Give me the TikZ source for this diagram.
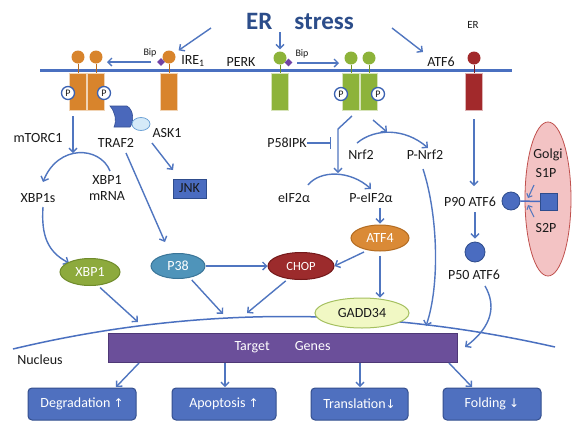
\documentclass[tikz,border=0pt]{standalone}
\usepackage{fontspec}
\setmainfont{Carlito}
\newfontfamily\symfont{DejaVu Sans}
\usetikzlibrary{arrows.meta,shapes.geometric}
\definecolor{arrowblue}{HTML}{5076C0}
\definecolor{membraneblue}{HTML}{4A70C0}
\definecolor{titleblue}{HTML}{2C4D8A}
\definecolor{ireorange}{HTML}{D8842C}
\definecolor{ireorangeD}{HTML}{B86A1C}
\definecolor{perkgreen}{HTML}{8DB33A}
\definecolor{perkgreenD}{HTML}{6F9126}
\definecolor{atfred}{HTML}{A2292B}
\definecolor{atfredD}{HTML}{7E1A1C}
\definecolor{bipviolet}{HTML}{7042A6}
\definecolor{trafblue}{HTML}{4A68BB}
\definecolor{trafblueD}{HTML}{344F94}
\definecolor{askfill}{HTML}{D5EAF8}
\definecolor{askdraw}{HTML}{6FA3D6}
\definecolor{jnkfill}{HTML}{4A6CC0}
\definecolor{jnkdraw}{HTML}{2E4C8C}
\definecolor{xbpfill}{HTML}{8DAA3D}
\definecolor{xbpdraw}{HTML}{6F8B2B}
\definecolor{pfill}{HTML}{4F94BA}
\definecolor{pdraw}{HTML}{3A7598}
\definecolor{chopfill}{HTML}{9C2B2C}
\definecolor{chopdraw}{HTML}{74191A}
\definecolor{atf4fill}{HTML}{DA8A36}
\definecolor{atf4draw}{HTML}{B36C22}
\definecolor{gaddfill}{HTML}{F1F8C4}
\definecolor{gadddraw}{HTML}{A5C060}
\definecolor{targetfill}{HTML}{6B4F9A}
\definecolor{targetdraw}{HTML}{4E3876}
\definecolor{outfill}{HTML}{4F70BF}
\definecolor{outdraw}{HTML}{344F8E}
\definecolor{golgifill}{HTML}{F3C3C4}
\definecolor{golgidraw}{HTML}{C0504D}
\definecolor{ringblue}{HTML}{3B62B2}
\definecolor{textdark}{HTML}{1A1A1A}
\tikzset{
 arr/.style={draw=arrowblue, line width=1.4pt, -{Straight Barb[length=4pt,width=8pt]}},
 arrsmall/.style={draw=arrowblue, line width=1.1pt, -{Straight Barb[length=3pt,width=6pt]}},
 inh/.style={draw=arrowblue, line width=1.4pt, -{Bar[width=12pt,line width=1.4pt]}},
 membrane/.style={draw=membraneblue, line width=3pt},
 stemline/.style={draw=#1, line width=0.8pt},
 head/.style={circle, minimum size=13pt, inner sep=0pt, fill=#1, draw=none},
 rbox/.style={rectangle, minimum width=17.5pt, minimum height=37pt, inner sep=0pt, fill=#1, draw=white!65!#1, line width=0.6pt},
 bipd/.style={diamond, minimum size=8pt, inner sep=0pt, fill=bipviolet, draw=none},
 pc/.style={circle, minimum size=13pt, inner sep=0pt, fill=white, draw=ringblue, line width=1.3pt, font=\fontsize{10}{10}\selectfont, text=textdark},
 lbl/.style={inner sep=0pt, font=\fontsize{14}{16}\selectfont, text=textdark, align=center},
 smalllbl/.style={inner sep=0pt, font=\fontsize{10}{10}\selectfont, text=textdark},
 oval/.style={ellipse, inner sep=0pt, line width=1pt, font=\fontsize{14}{16}\selectfont, text=white},
 outbox/.style={rectangle, rounded corners=4pt, minimum height=32pt, fill=outfill, draw=outdraw, line width=1pt, font=\fontsize{14}{16}\selectfont, text=white, inner sep=0pt},
 atfc/.style={circle, inner sep=0pt, fill=jnkfill, draw=jnkdraw, line width=0.8pt},
 nucline/.style={draw=membraneblue, line width=1.5pt},
}
\begin{document}
\begin{tikzpicture}[x=1pt,y=-1pt]
\fill[white] (0,0) rectangle (574,429);
\useasboundingbox (0,0) rectangle (574,429);

% Golgi
\node[ellipse, minimum width=46pt, minimum height=154pt, inner sep=0pt, fill=golgifill, draw=golgidraw, line width=0.8pt] (golgi) at (548,199) {};

% title
\node[inner sep=0pt, font=\fontsize{25}{28}\selectfont\bfseries, text=titleblue] (title) at (300,21) {ER\hspace{22pt}stress};
\node[inner sep=0pt, font=\fontsize{11}{12}\selectfont, text=textdark] (ersmall) at (473,25) {ER};

% membrane
\coordinate (memL) at (40,70);
\coordinate (memR) at (512,70);
\draw[membrane] (memL) -- (memR);

% IRE1 dimer
\node[rbox=ireorange] (ireBA) at (78,92) {};
\node[rbox=ireorange] (ireBB) at (96,92) {};
\node[head=ireorange] (ireHA) at (78,57) {};
\node[head=ireorange] (ireHB) at (96,57) {};
\draw[stemline=ireorangeD] (ireHA) -- (ireBA);
\draw[stemline=ireorangeD] (ireHB) -- (ireBB);
\node[pc] (pA) at (68,93) {P};
\node[pc] (pB) at (104,93) {P};

% IRE1 monomer
\node[rbox=ireorange] (ireBM) at (169,92) {};
\node[head=ireorange] (ireHM) at (169,57) {};
\draw[stemline=ireorangeD] (ireHM) -- (ireBM);
\node[bipd] (bip1) at (161,62) {};
\node[smalllbl] (bipt1) at (150,53) {Bip};
\node[lbl] (irel) at (193,61) {IRE\textsubscript{1}};

% PERK monomer
\node[lbl] (perkl) at (241,62) {PERK};
\node[rbox=perkgreen] (perkBM) at (280,92) {};
\node[head=perkgreen] (perkHM) at (280,58) {};
\draw[stemline=perkgreenD] (perkHM) -- (perkBM);
\node[bipd] (bip2) at (288.5,62.5) {};
\node[smalllbl] (bipt2) at (302,54) {Bip};

% PERK dimer
\node[rbox=perkgreen] (perkBA) at (351,92) {};
\node[rbox=perkgreen] (perkBB) at (369,92) {};
\node[head=perkgreen] (perkHA) at (351,58) {};
\node[head=perkgreen] (perkHB) at (369,58) {};
\draw[stemline=perkgreenD] (perkHA) -- (perkBA);
\draw[stemline=perkgreenD] (perkHB) -- (perkBB);
\node[pc] (pC) at (341,94) {P};
\node[pc] (pD) at (378,94) {P};

% ATF6
\node[lbl] (atf6l) at (441,62) {ATF6};
\node[rbox=atfred, minimum width=17pt] (atfB) at (474,92) {};
\node[head=atfred] (atfH) at (474,58) {};
\draw[stemline=atfredD] (atfH) -- (atfB);

% stress arrows
\coordinate (t1) at (211,28);
\draw[arr, shorten >=5pt] (t1) -- (ireHM);
\coordinate (t2) at (280,32);
\draw[arr, shorten >=2pt] (t2) -- (perkHM);
\coordinate (t3) at (392,28);
\coordinate (t3e) at (423,52);
\draw[arr] (t3) -- (t3e);

% membrane arrows
\coordinate (i1s) at (151,62);
\coordinate (i1e) at (107,62);
\draw[arr] (i1s) -- (i1e);
\coordinate (p1s) at (297,63);
\coordinate (p1e) at (339,63);
\draw[arr] (p1s) -- (p1e);

% TRAF2 / ASK1
\draw[fill=trafblue, draw=trafblueD, line width=0.6pt] (110,106) -- (127,106) .. controls (134,110) and (134,122) .. (130,127) -- (114,127) .. controls (117,120) and (115,112) .. (110,106) -- cycle;
\node[ellipse, minimum width=18pt, minimum height=13pt, inner sep=0pt, fill=askfill, draw=askdraw, line width=0.8pt] (ask1e) at (141,124) {};

% IRE1 branch labels
\node[lbl] (mtorc) at (38,138) {mTORC1};
\node[lbl] (traf2) at (116,143) {TRAF2};
\node[lbl] (ask1) at (167,133) {ASK1};
\node[lbl] (xbp1s) at (38,198) {XBP1s};
\node[lbl] (xbpm) at (107,188) {XBP1\\mRNA};
\node[rectangle, minimum width=33pt, minimum height=19pt, inner sep=0pt, fill=jnkfill, draw=jnkdraw, line width=0.8pt, font=\fontsize{14}{16}\selectfont, text=textdark] (jnk) at (189.5,188.5) {JNK};

\coordinate (a1s) at (73,116);
\coordinate (a1e) at (73,153);
\draw[arr] (a1s) -- (a1e);
\coordinate (sp1) at (110,171);
\coordinate (sp1e) at (43,182);
\draw[arr] (sp1) .. controls (100,146) and (58,144) .. (sp1e);
\coordinate (aj1) at (152,143);
\coordinate (aj2) at (173,170);
\draw[arr] (aj1) -- (aj2);
\coordinate (tp1) at (126,153);
\coordinate (tp2) at (165,242);
\draw[arr] (tp1) -- (tp2);
\coordinate (xs1) at (43,207);
\coordinate (xs2) at (69,263);
\draw[arr] (xs1) .. controls (41,236) and (48,252) .. (xs2);

% ovals
\node[oval, minimum width=60pt, minimum height=27pt, fill=xbpfill, draw=xbpdraw] (xbp1) at (90,272) {XBP1};
\node[oval, minimum width=54pt, minimum height=25pt, fill=pfill, draw=pdraw] (p38) at (178,266) {P38};
\node[oval, minimum width=66pt, minimum height=27pt, fill=chopfill, draw=chopdraw, font=\fontsize{12.5}{14}\selectfont] (chop) at (301,266) {CHOP};
\node[oval, minimum width=58pt, minimum height=26pt, fill=atf4fill, draw=atf4draw] (atf4) at (380,238) {ATF4};

\draw[arr] (p38) -- (chop);
\coordinate (ac1) at (364,252);
\draw[arr] (ac1) -- (chop.east);

% PERK branch
\node[lbl] (p58) at (287,143) {P58IPK};
\coordinate (p58e) at (331,143);
\draw[inh] (p58.east) -- (p58e);
\coordinate (pd1) at (352,116);
\coordinate (pd2) at (338,129);
\coordinate (pd3) at (338,173);
\draw[arr] (pd1) -- (pd2) -- (pd3);
\coordinate (pd4) at (373,120);
\coordinate (pd5) at (387,132);
\draw[arr] (pd4) -- (pd5);
\coordinate (nr1) at (357,143);
\coordinate (nr2) at (428,148);
\draw[arr] (nr1) .. controls (375,128) and (405,128) .. (nr2);
\coordinate (ei1) at (308,185);
\coordinate (ei2) at (371,189);
\draw[arr] (ei1) .. controls (320,170) and (350,170) .. (ei2);
\node[lbl] (nrf2) at (361,155) {Nrf2};
\node[lbl] (pnrf2) at (425,155) {P-Nrf2};
\node[lbl] (eif) at (294,198) {eIF2α};
\node[lbl] (peif) at (371,198) {P-eIF2α};
\draw[arr, shorten <=5pt, shorten >=1pt] (atf4.north |- peif.south) -- (atf4.north);

% ATF6 branch
\coordinate (af1) at (474,119);
\coordinate (af2) at (474,186);
\draw[arr] (af1) -- (af2);
\node[lbl] (p90l) at (470,202) {P90 ATF6};
\node[atfc, minimum size=18pt] (p90c) at (511,201) {};
\node[rectangle, minimum size=17pt, inner sep=0pt, fill=jnkfill, draw=jnkdraw, line width=0.8pt] (s1sq) at (549,201.5) {};
\draw[draw=jnkfill, line width=1.5pt] (p90c) -- (s1sq);
\node[lbl] (golgil) at (548,155) {Golgi};
\node[lbl] (s1p) at (546,173) {S1P};
\node[lbl] (s2p) at (546,228) {S2P};
\coordinate (s1a) at (534,185);
\coordinate (s1b) at (528,198);
\draw[arrsmall] (s1a) -- (s1b);
\coordinate (s2a) at (534,217);
\coordinate (s2b) at (528,205);
\draw[arrsmall] (s2a) -- (s2b);
\node[atfc, minimum size=20pt] (p50c) at (475,252) {};
\coordinate (pp1) at (475,212);
\draw[arr, shorten >=3pt] (pp1) -- (p50c);
\node[lbl] (p50l) at (474,275) {P50 ATF6};

% nucleus envelope
\coordinate (nucL) at (13,349);
\coordinate (nucR) at (555,347);
\draw[nucline] (nucL) .. controls (193,306) and (374,306) .. (nucR);
\node[oval, minimum width=94pt, minimum height=30pt, fill=gaddfill, draw=gadddraw, text=textdark] (gadd) at (362,313) {GADD34};
\draw[arr, shorten <=4pt] (atf4.south) -- (atf4.south |- gadd.north);
\node[lbl] (nucl) at (40,360) {Nucleus};

% arrows into nucleus
\coordinate (nx1) at (138,322);
\draw[arr, shorten <=3pt] (xbp1.-60) -- (nx1);
\coordinate (nx2) at (223,314);
\draw[arr, shorten <=3pt] (p38.-45) -- (nx2);
\coordinate (nx3) at (247,313);
\draw[arr, shorten <=3pt] (chop.-135) -- (nx3);
\coordinate (pn1) at (423,169);
\coordinate (pn2) at (426,326);
\draw[arr] (pn1) .. controls (438,215) and (440,285) .. (pn2);
\coordinate (pf1) at (485,286);
\coordinate (pf2) at (465,347);
\draw[arr] (pf1) .. controls (496,305) and (493,326) .. (pf2);

% target genes
\node[rectangle, minimum width=349pt, minimum height=29pt, inner sep=0pt, fill=targetfill, draw=targetdraw, line width=0.8pt, font=\fontsize{14}{16}\selectfont, text=white] (tg) at (282.5,347.5) {Target\hspace{1.8em}Genes};

% outcomes
\node[outbox, minimum width=108pt] (deg) at (82,404) {Degradation {\fontsize{12}{14}\symfont ↑}};
\node[outbox, minimum width=104pt] (apo) at (224,404) {Apoptosis {\fontsize{12}{14}\symfont ↑}};
\node[outbox, minimum width=97pt] (tra) at (359.5,404) {Translation{\fontsize{12}{14}\symfont ↓}};
\node[outbox, minimum width=98pt] (fol) at (492,404) {Folding {\fontsize{12}{14}\symfont ↓}};

\coordinate (b1s) at (139,363);
\coordinate (b1e) at (116,387);
\draw[arr] (b1s) -- (b1e);
\coordinate (b2s) at (225,363);
\coordinate (b2e) at (225,387);
\draw[arr] (b2s) -- (b2e);
\coordinate (b3s) at (360,363);
\coordinate (b3e) at (360,387);
\draw[arr] (b3s) -- (b3e);
\coordinate (b4s) at (449,363);
\coordinate (b4e) at (472,387);
\draw[arr] (b4s) -- (b4e);
\end{tikzpicture}
\end{document}
